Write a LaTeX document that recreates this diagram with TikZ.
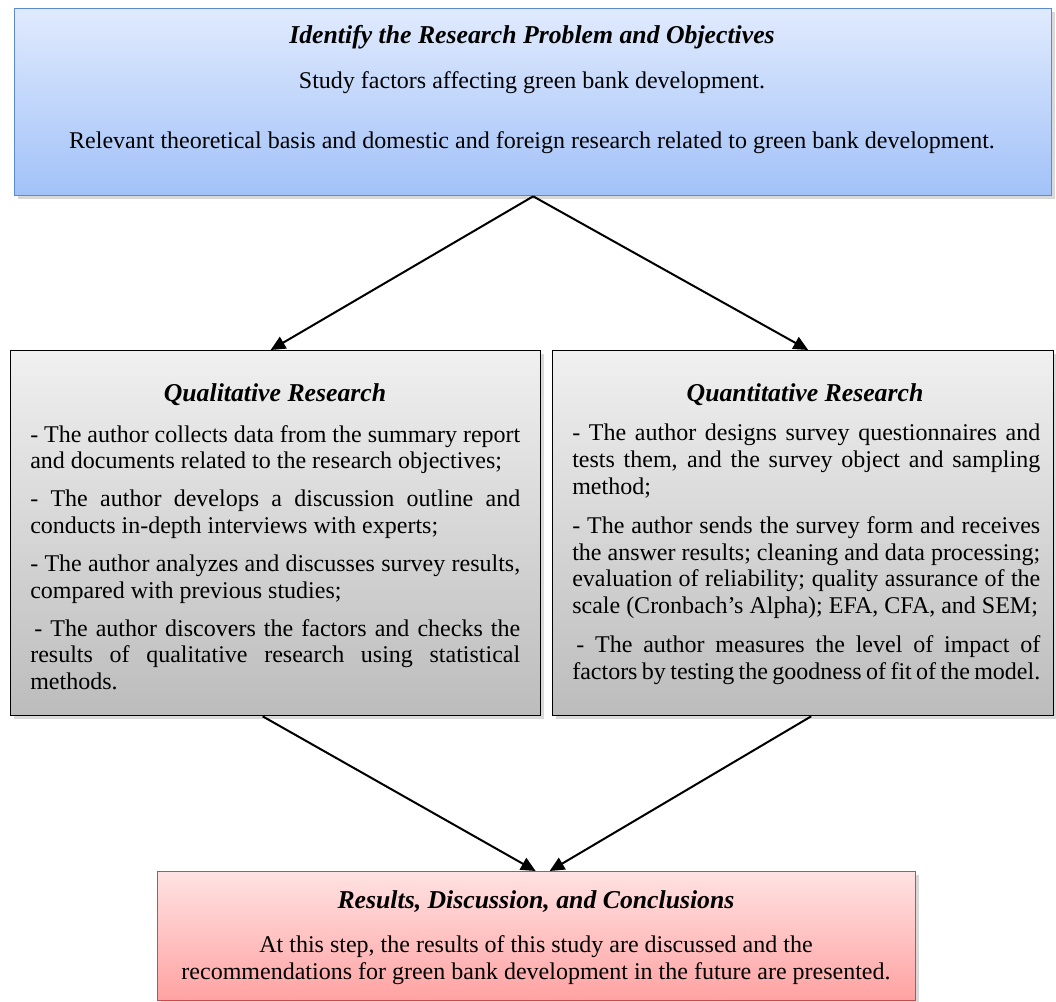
\documentclass[tikz,border=0pt]{standalone}
\usepackage{fontspec}
\setmainfont{Liberation Serif}
\usetikzlibrary{shadows,arrows.meta,calc}
\definecolor{bluetop}{HTML}{E0EAFD}
\definecolor{bluebot}{HTML}{A2C2F8}
\definecolor{blueline}{HTML}{5A8AD0}
\definecolor{graytop}{HTML}{F0F0F0}
\definecolor{graybot}{HTML}{BCBCBC}
\definecolor{redtop}{HTML}{FFE2E2}
\definecolor{redbot}{HTML}{FFA2A2}
\definecolor{redline}{HTML}{C0504D}
\begin{document}
\begin{tikzpicture}[x=0.75pt,y=-0.75pt,
  box/.style={draw, line width=1pt, inner sep=0pt, anchor=north west,
    drop shadow={shadow xshift=2.5pt, shadow yshift=-2.5pt, opacity=0.3}},
  bluebox/.style={box, draw=blueline, top color=bluetop, bottom color=bluebot},
  graybox/.style={box, draw=black, top color=graytop, bottom color=graybot},
  redbox/.style={box, draw=redline, top color=redtop, bottom color=redbot},
  txt/.style={inner sep=0pt, font=\fontsize{18}{20}\selectfont},
  ttl/.style={txt, font=\fontsize{19.3}{20}\selectfont\bfseries\itshape},
  para/.style={txt, anchor=north west, align=justify},
  arr/.style={line width=1.5pt, -{Triangle[length=11pt,width=10pt]}}]
\useasboundingbox (0,0) rectangle (1056,1002);
% boxes
\node[bluebox, minimum width=777.75pt, minimum height=140.25pt] (top) at (14,8) {};
\node[graybox, minimum width=397.5pt, minimum height=273.75pt] (qual) at (10,350) {};
\node[graybox, minimum width=375.75pt, minimum height=273.75pt] (quant) at (552,350) {};
\node[redbox, minimum width=568.5pt, minimum height=96.75pt] (res) at (157,871) {};
% top texts
\node[ttl] (toptitle) at (532,37) {Identify the Research Problem and Objectives};
\node[txt] (topl1) at (532,83) {Study factors affecting green bank development.};
\node[txt] (topl2) at (532,143) {Relevant theoretical basis and domestic and foreign research related to green bank development.};
% qualitative
\node[ttl] (qualtitle) at (275,395) {Qualitative Research};
\node[para, text width=367.5pt] (qualtext) at (30,425) {\setlength{\parskip}{8.5pt}%
- The author collects data from the summary report\linebreak and documents related to the research objectives;\par
- The author develops a discussion outline and\linebreak conducts in-depth interviews with experts;\par
- The author analyzes and discusses survey results,\linebreak compared with previous studies;\par
\hspace*{3pt}- The author discovers the factors and checks the\linebreak results of qualitative research using statistical\linebreak methods.\par};
% quantitative
\node[ttl] (quanttitle) at (805,395) {Quantitative Research};
\node[para, text width=351pt] (quanttext) at (572,424) {\setlength{\parskip}{9.5pt}%
- The author designs survey questionnaires and\linebreak tests them, and the survey object and sampling\linebreak method;\par
- The author sends the survey form and receives\linebreak the answer results; cleaning and data processing;\linebreak evaluation of reliability; quality assurance of the\linebreak scale (Cronbach's Alpha); EFA, CFA, and SEM;\par
\hspace*{3pt}- The author measures the level of impact of\linebreak factors by testing the goodness of fit of the model.\par};
% results
\node[ttl] (restitle) at (536,902) {Results, Discussion, and Conclusions};
\node[txt, align=center] (restext) at (536,960) {At this step, the results of this study are discussed and the\\recommendations for green bank development in the future are presented.};
% arrows
\draw[arr] (top.south) -- ($(qual.north)+(-5,0)$);
\draw[arr] (top.south) -- ($(quant.north)+(5,0)$);
\draw[arr] ($(qual.south)+(-13,0)$) -- ($(res.north)+(-1,0)$);
\draw[arr] ($(quant.south)+(8,0)$) -- ($(res.north)+(13,0)$);
\end{tikzpicture}
\end{document}
